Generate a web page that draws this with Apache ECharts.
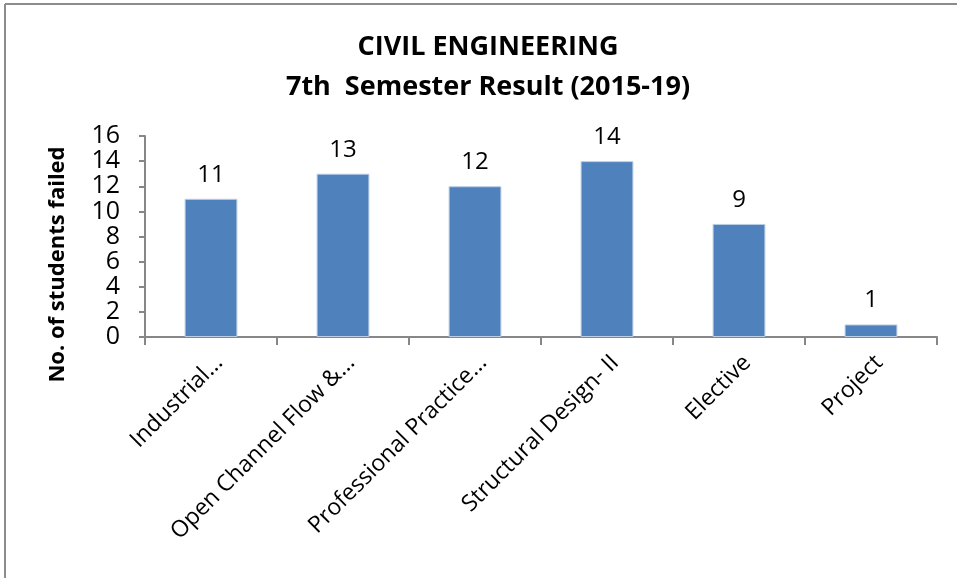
<!DOCTYPE html>
<html>
<head>
<meta charset="utf-8">
<script src="https://cdn.jsdelivr.net/npm/echarts@6/dist/echarts.min.js"></script>
<style>
  html, body { margin: 0; padding: 0; background: #fff; }
  #main { width: 957px; height: 578px; }
</style>
</head>
<body>
<div id="main"></div>
<script>
// subjects and number of failed students
const subjects = ["Industrial...", "Open Channel Flow &...", "Professional Practice...", "Structural Design- II", "Elective", "Project"];
const failed = [11, 13, 12, 14, 9, 1];
const yTicks = [0, 2, 4, 6, 8, 10, 12, 14, 16];

var myChart = echarts.init(document.querySelector("#main"));
var font = "'Open Sans', sans-serif";

var option = {
  animation: false,
  backgroundColor: "#fff",
  title: {
    text: "CIVIL ENGINEERING\n7th  Semester Result (2015-19)",
    left: 483,
    textAlign: "center",
    top: 22,
    textStyle: {
      fontFamily: font,
      fontWeight: "bold",
      fontSize: 27,
      lineHeight: 40,
      color: "#000"
    }
  },
  graphic: [
    { type: "line", shape: { x1: 5, y1: 4, x2: 957, y2: 4 }, style: { stroke: "#8c8c8c", lineWidth: 2 } },
    { type: "line", shape: { x1: 5, y1: 4, x2: 5, y2: 578 }, style: { stroke: "#8c8c8c", lineWidth: 2 } }
  ],
  grid: { left: 145, right: 20, top: 136, bottom: 241 },
  xAxis: {
    type: "category",
    data: subjects,
    axisLine: { lineStyle: { color: "#878787", width: 2 } },
    axisTick: { show: true, length: 8, lineStyle: { color: "#878787", width: 2 } },
    axisLabel: {
      rotate: 45,
      interval: 0,
      margin: 14,
      verticalAlign: "top",
      fontFamily: font,
      fontSize: 23,
      color: "#000"
    }
  },
  yAxis: {
    type: "value",
    min: yTicks[0],
    max: yTicks[yTicks.length - 1],
    interval: 2,
    name: "No. of students failed",
    nameLocation: "middle",
    nameGap: 76,
    nameTextStyle: {
      fontFamily: font,
      fontWeight: "bold",
      fontSize: 22,
      color: "#000",
      padding: [0, 56, 0, 0]
    },
    splitLine: { show: false },
    axisLine: { show: true, lineStyle: { color: "#878787", width: 2 } },
    axisTick: { show: true, length: 6, lineStyle: { color: "#878787", width: 2 } },
    axisLabel: {
      margin: 25,
      hideOverlap: false,
      lineHeight: 18,
      fontFamily: font,
      fontSize: 25,
      color: "#000"
    }
  },
  series: [{
    type: "bar",
    data: failed,
    barWidth: "40%",
    itemStyle: { color: "#4f81bd", borderColor: "#b9cde5", borderWidth: 1 },
    label: {
      show: true,
      position: "top",
      distance: 12,
      fontFamily: font,
      fontSize: 24,
      color: "#000"
    }
  }]
};

myChart.setOption(option);
</script>
</body>
</html>
